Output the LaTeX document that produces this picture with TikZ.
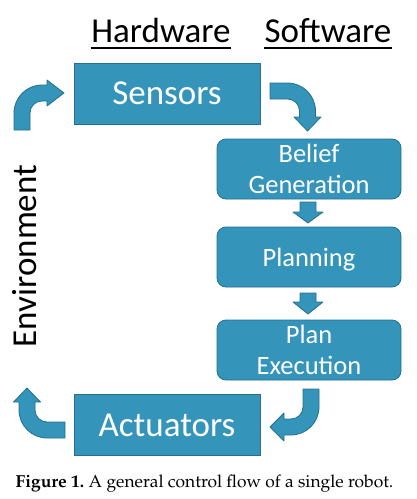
\documentclass[tikz,border=0pt]{standalone}
\usepackage[T1]{fontenc}
\usepackage{fontspec}
\setsansfont{Carlito}
\definecolor{boxblue}{HTML}{3494BA}
\definecolor{boxline}{HTML}{25708F}

\begin{document}
\begin{tikzpicture}[x=1pt, y=-1pt, line width=0.8pt]
    \tikzset{
        hwbox/.style={rectangle, fill=boxblue, draw=boxline, text=white, inner sep=0pt,
            minimum width=186pt, minimum height=61pt, font=\sffamily\fontsize{35}{42}\selectfont},
        swbox/.style={rectangle, rounded corners=9pt, fill=boxblue, draw=boxline, text=white,
            align=center, inner sep=0pt, minimum width=184pt, minimum height=60pt,
            font=\sffamily\fontsize{26.5}{31}\selectfont},
        blockarrow/.style={fill=boxblue, draw=boxline, line join=round},
        heading/.style={inner sep=0pt, anchor=base, font=\sffamily\fontsize{35}{42}\selectfont}
    }
    \useasboundingbox (0,0) rectangle (416,499);

    % === box centres ===
    \coordinate (S) at (167,93.5);
    \coordinate (B) at (309,169);
    \coordinate (P) at (309,257);
    \coordinate (X) at (309,350);
    \coordinate (A) at (167,425);

    % === boxes ===
    \node[hwbox] (sensors) at (S) {Sensors};
    \node[swbox] (belief) at (B) {Belief\\Generation};
    \node[swbox, text depth=0pt] (planning) at (P) {Planning};
    \node[swbox] (execution) at (X) {Plan\\Execution};
    \node[hwbox] (actuators) at (A) {Actuators};

    % === environment -> sensors ===
    \draw[blockarrow] (14,130) -- (14,113) arc (180:270:28) -- (47,85) -- (47,80) -- (64,93)
        -- (47,106) -- (47,101) -- (42,101) arc (270:180:12) -- (30,130) -- cycle;

    % === sensors -> belief generation ===
    \draw[blockarrow] (270,83) -- (287.5,83) arc (270:360:28) -- (315.5,117) -- (321,117)
        -- (307.5,131) -- (294,117) -- (299.5,117) -- (299.5,111) arc (360:270:12) -- (270,99) -- cycle;

    % === belief generation -> planning -> plan execution ===
    \draw[blockarrow] (300,202) -- (316,202) -- (316,212) -- (323,212) -- (308,223)
        -- (293,212) -- (300,212) -- cycle;
    \draw[blockarrow] (300,293) -- (316,293) -- (316,302) -- (323,302) -- (308,314)
        -- (293,302) -- (300,302) -- cycle;

    % === plan execution -> actuators ===
    \draw[blockarrow] (303,389) -- (319,389) -- (319,407) arc (0:90:28) -- (284,435) -- (284,441)
        -- (270,427) -- (284,413) -- (284,419) -- (291,419) arc (90:0:12) -- cycle;

    % === actuators -> environment ===
    \draw[blockarrow] (65,438) -- (47,438) arc (90:180:28) -- (19,402) -- (13.5,402) -- (27,388)
        -- (40.5,402) -- (35,402) -- (35,410) arc (180:90:12) -- (65,422) -- cycle;

    % === headings ===
    \node[heading] (hw) at (161,42.7) {Hardware};
    \node[heading] (sw) at (328,42.7) {Software};
    \draw[line width=1.5pt] ([yshift=-5.5pt]hw.base west) -- ([yshift=-5.5pt]hw.base east);
    \draw[line width=1.5pt] ([yshift=-5.5pt]sw.base west) -- ([yshift=-5.5pt]sw.base east);

    \node[heading, rotate=90] (env) at (36.5,256) {Environment};

    % === caption ===
    \node[inner sep=0pt, anchor=base, font=\fontencoding{T1}\fontfamily{ppl}\fontsize{17.4}{20}\selectfont]
        (caption) at (204.5,487) {\textbf{Figure 1.}\ A general control flow of a single robot.};

\end{tikzpicture}
\end{document}
